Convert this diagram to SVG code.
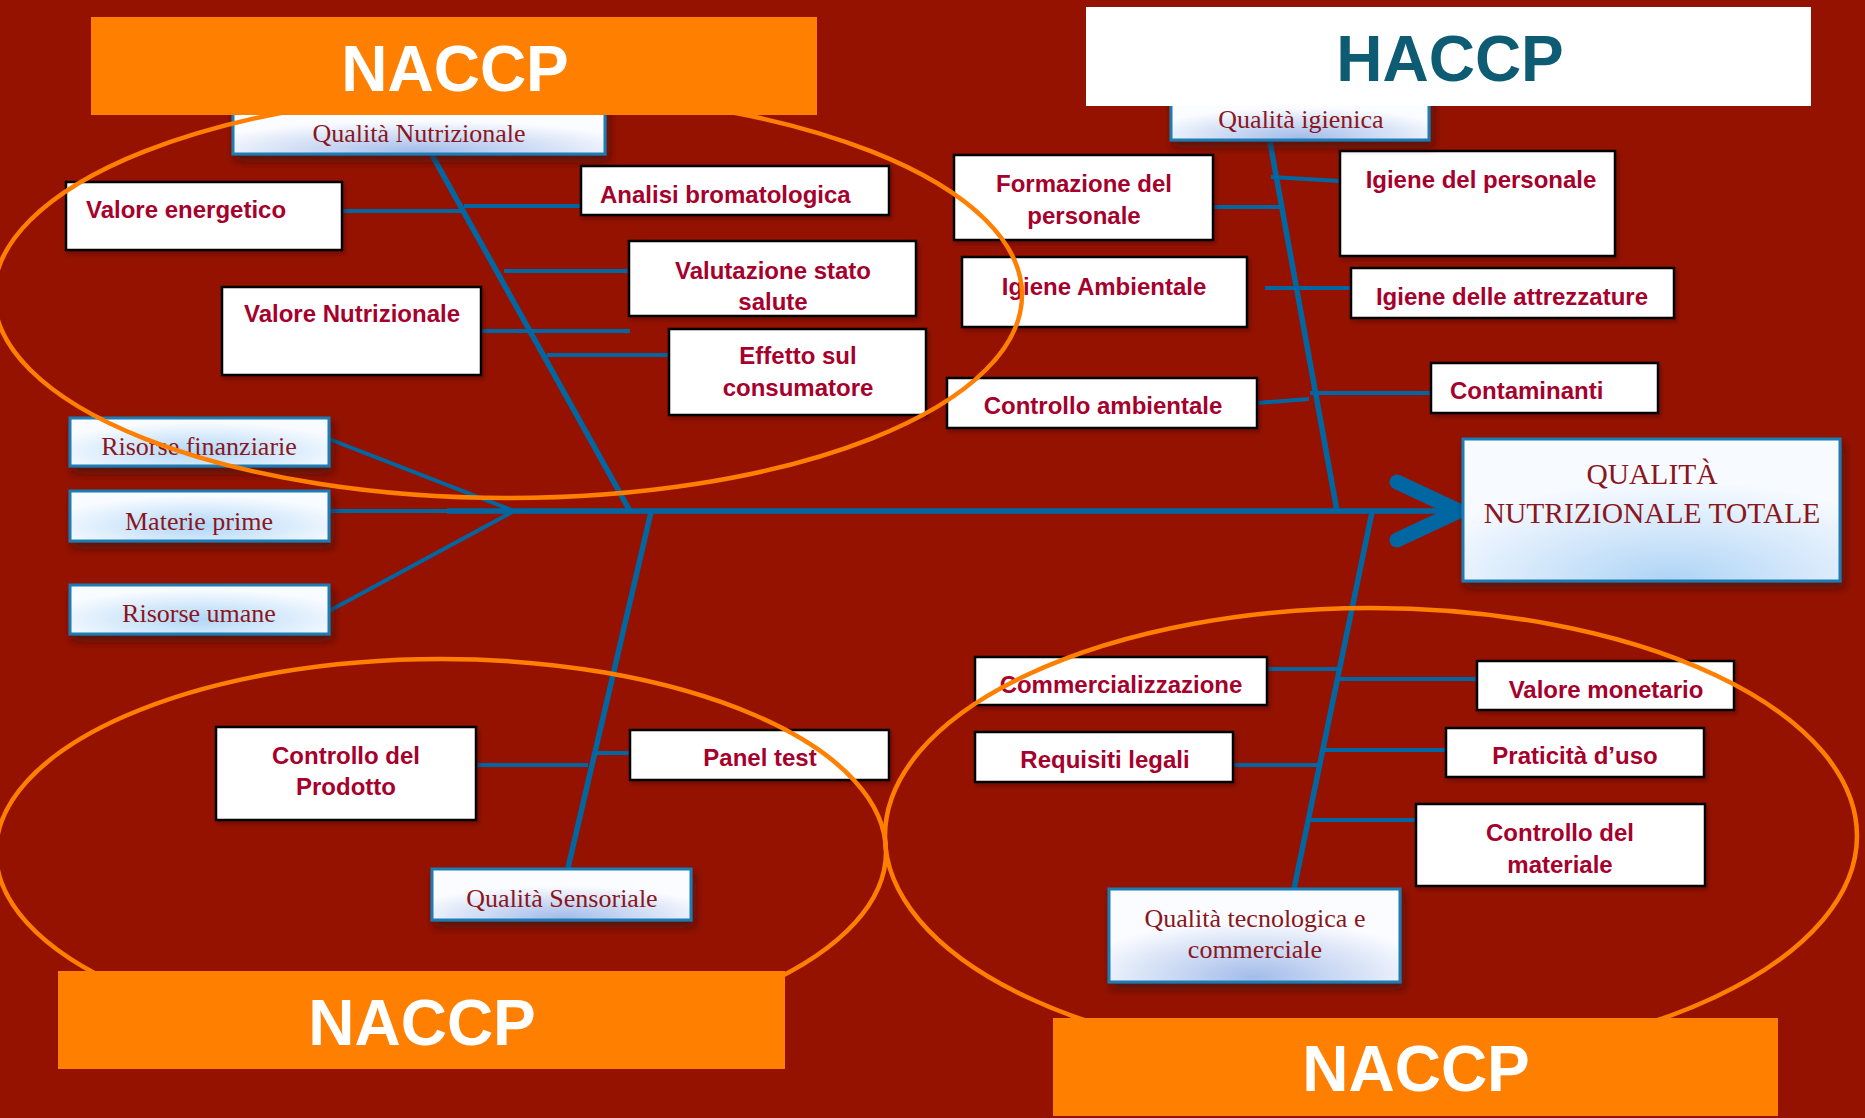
<svg xmlns="http://www.w3.org/2000/svg" width="1865" height="1118" viewBox="0 0 1865 1118">
<defs>
<style>
.bg{fill:#951200}
.ln{stroke:#0067A3;stroke-width:4;fill:none;stroke-linecap:butt}
.bone{stroke:#0067A3;stroke-width:5.5;fill:none}
.wb{fill:#ffffff;stroke:#000000;stroke-width:2.5}
.bb{stroke:#1A7DB5;stroke-width:3}
.bt{font-family:"Liberation Sans",Arial,sans-serif;font-weight:bold;font-size:24px;fill:#A6002C}
.st{font-family:"Liberation Serif","Times New Roman",serif;font-size:26px;fill:#8A1620}
.big{font-size:29.5px}
.ell{fill:none;stroke:#FF7F00;stroke-width:4.5}
.hdr{fill:#FF7F00}
.ht{font-family:"Liberation Sans",Arial,sans-serif;font-weight:bold;font-size:64px;fill:#ffffff;text-anchor:middle}
.c{text-anchor:middle}
</style>
<radialGradient id="gPeri" cx="0.5" cy="0.95" r="0.62">
<stop offset="0" stop-color="#A3BCEA"/>
<stop offset="1" stop-color="#FBFCFF"/>
</radialGradient>
<radialGradient id="gSky" cx="0.5" cy="0.7" r="0.6">
<stop offset="0" stop-color="#B0D7F7"/>
<stop offset="1" stop-color="#F8FBFF"/>
</radialGradient>
<radialGradient id="gTot" cx="0.55" cy="1" r="0.7">
<stop offset="0" stop-color="#AED4F6"/>
<stop offset="1" stop-color="#F7FAFF"/>
</radialGradient>
<filter id="sh" x="-10%" y="-20%" width="125%" height="150%">
<feDropShadow dx="3" dy="6" stdDeviation="4" flood-color="#2a0a0a" flood-opacity="0.6"/>
</filter>
<filter id="shw" x="-10%" y="-20%" width="125%" height="150%">
<feDropShadow dx="2" dy="3" stdDeviation="2" flood-color="#400000" flood-opacity="0.4"/>
</filter>
</defs>
<rect class="bg" x="0" y="0" width="1865" height="1118"/>

<g id="connectors">
<line class="ln" x1="329" y1="511" x2="514" y2="511"/>
<line class="bone" x1="447" y1="511" x2="1455" y2="511" stroke-width="6.5"/>
<line class="ln" x1="329" y1="439" x2="514" y2="511"/>
<line class="ln" x1="329" y1="611" x2="514" y2="511"/>
<polyline points="1397,482 1459,511 1397,540" fill="none" stroke="#0067A3" stroke-width="15" stroke-linecap="round" stroke-linejoin="miter"/>
<line class="bone" x1="432" y1="155" x2="630" y2="511"/>
<line class="ln" x1="342" y1="211" x2="464" y2="211"/>
<line class="ln" x1="464" y1="206" x2="581" y2="206"/>
<line class="ln" x1="504" y1="271" x2="629" y2="271"/>
<line class="ln" x1="480" y1="331" x2="630" y2="331"/>
<line class="ln" x1="547" y1="355" x2="669" y2="355"/>
<line class="bone" x1="651" y1="512" x2="568" y2="868"/>
<line class="ln" x1="477" y1="765" x2="588" y2="765"/>
<line class="ln" x1="597" y1="753" x2="630" y2="753"/>
<line class="bone" x1="1270" y1="142" x2="1337" y2="511"/>
<line class="ln" x1="1271" y1="177" x2="1340" y2="181"/>
<line class="ln" x1="1213" y1="207" x2="1283" y2="207"/>
<line class="ln" x1="1265" y1="288" x2="1351" y2="288"/>
<line class="ln" x1="1257" y1="403" x2="1309" y2="399"/>
<line class="ln" x1="1310" y1="393" x2="1435" y2="393"/>
<line class="bone" x1="1372" y1="512" x2="1294" y2="889"/>
<line class="ln" x1="1267" y1="669" x2="1338" y2="669"/>
<line class="ln" x1="1338" y1="679" x2="1477" y2="679"/>
<line class="ln" x1="1233" y1="765" x2="1320" y2="765"/>
<line class="ln" x1="1324" y1="750" x2="1446" y2="750"/>
<line class="ln" x1="1309" y1="820" x2="1416" y2="820"/>
</g>

<g id="n-valore-energetico"><rect class="wb" x="66" y="182" width="276" height="68" filter="url(#shw)"/><text class="bt" x="86" y="218">Valore energetico</text></g>
<g id="n-analisi"><rect class="wb" x="581" y="166" width="308" height="49" filter="url(#shw)"/><text class="bt" x="600" y="203">Analisi bromatologica</text></g>
<g id="n-valutazione"><rect class="wb" x="629" y="241" width="287" height="75" filter="url(#shw)"/><text class="bt c" x="773" y="279">Valutazione stato</text><text class="bt c" x="773" y="310">salute</text></g>
<g id="n-valore-nutrizionale"><rect class="wb" x="222" y="287" width="259" height="88" filter="url(#shw)"/><text class="bt c" x="352" y="322">Valore Nutrizionale</text></g>
<g id="n-effetto"><rect class="wb" x="669" y="329" width="257" height="86" filter="url(#shw)"/><text class="bt c" x="798" y="364">Effetto sul</text><text class="bt c" x="798" y="396">consumatore</text></g>
<g id="n-formazione"><rect class="wb" x="954" y="155" width="259" height="85" filter="url(#shw)"/><text class="bt c" x="1084" y="192">Formazione del</text><text class="bt c" x="1084" y="224">personale</text></g>
<g id="n-igiene-personale"><rect class="wb" x="1340" y="151" width="275" height="105" filter="url(#shw)"/><text class="bt c" x="1481" y="188">Igiene del personale</text></g>
<g id="n-igiene-ambientale"><rect class="wb" x="962" y="257" width="285" height="70" filter="url(#shw)"/><text class="bt c" x="1104" y="295">Igiene Ambientale</text></g>
<g id="n-igiene-attrezzature"><rect class="wb" x="1351" y="268" width="323" height="50" filter="url(#shw)"/><text class="bt c" x="1512" y="305">Igiene delle attrezzature</text></g>
<g id="n-controllo-ambientale"><rect class="wb" x="947" y="378" width="310" height="50" filter="url(#shw)"/><text class="bt c" x="1103" y="414">Controllo ambientale</text></g>
<g id="n-contaminanti"><rect class="wb" x="1431" y="363" width="227" height="50" filter="url(#shw)"/><text class="bt" x="1450" y="399">Contaminanti</text></g>
<g id="n-controllo-prodotto"><rect class="wb" x="216" y="727" width="260" height="93" filter="url(#shw)"/><text class="bt c" x="346" y="764">Controllo del</text><text class="bt c" x="346" y="795">Prodotto</text></g>
<g id="n-panel-test"><rect class="wb" x="630" y="730" width="259" height="50" filter="url(#shw)"/><text class="bt c" x="760" y="766">Panel test</text></g>
<g id="n-commercializzazione"><rect class="wb" x="975" y="657" width="292" height="48" filter="url(#shw)"/><text class="bt c" x="1121" y="693">Commercializzazione</text></g>
<g id="n-valore-monetario"><rect class="wb" x="1477" y="661" width="257" height="49" filter="url(#shw)"/><text class="bt c" x="1606" y="698">Valore monetario</text></g>
<g id="n-requisiti"><rect class="wb" x="975" y="732" width="258" height="50" filter="url(#shw)"/><text class="bt c" x="1105" y="768">Requisiti legali</text></g>
<g id="n-praticita"><rect class="wb" x="1446" y="728" width="258" height="49" filter="url(#shw)"/><text class="bt c" x="1575" y="764">Praticità d’uso</text></g>
<g id="n-controllo-materiale"><rect class="wb" x="1416" y="804" width="289" height="82" filter="url(#shw)"/><text class="bt c" x="1560" y="841">Controllo del</text><text class="bt c" x="1560" y="873">materiale</text></g>

<g id="n-qualita-nutrizionale"><rect class="bb" x="233" y="104" width="372" height="50" fill="url(#gPeri)" filter="url(#sh)"/><text class="st c" x="419" y="142">Qualità Nutrizionale</text></g>
<g id="n-risorse-finanziarie"><rect class="bb" x="70" y="418" width="259" height="48" fill="url(#gSky)" filter="url(#sh)"/><text class="st c" x="199" y="455">Risorse finanziarie</text></g>
<g id="n-materie-prime"><rect class="bb" x="70" y="491" width="259" height="50" fill="url(#gSky)" filter="url(#sh)"/><text class="st c" x="199" y="530">Materie prime</text></g>
<g id="n-risorse-umane"><rect class="bb" x="70" y="585" width="259" height="49" fill="url(#gSky)" filter="url(#sh)"/><text class="st c" x="199" y="622">Risorse umane</text></g>
<g id="n-qualita-sensoriale"><rect class="bb" x="432" y="869" width="259" height="51" fill="url(#gPeri)" filter="url(#sh)"/><text class="st c" x="562" y="907">Qualità Sensoriale</text></g>
<g id="n-qualita-igienica"><rect class="bb" x="1171" y="92" width="258" height="48" fill="url(#gPeri)" filter="url(#sh)"/><text class="st c" x="1301" y="128">Qualità igienica</text></g>
<g id="n-qualita-tecnologica"><rect class="bb" x="1109" y="889" width="291" height="93" fill="url(#gPeri)" filter="url(#sh)"/><text class="st c" x="1255" y="927">Qualità tecnologica e</text><text class="st c" x="1255" y="958">commerciale</text></g>
<g id="n-qualita-totale"><rect class="bb" x="1463" y="439" width="377" height="142" fill="url(#gTot)" filter="url(#sh)"/><text class="st big c" x="1652" y="484">QUALITÀ</text><text class="st big c" x="1652" y="523">NUTRIZIONALE TOTALE</text></g>

<g id="ellipses">
<ellipse class="ell" cx="508" cy="295" rx="514" ry="203"/>
<ellipse class="ell" cx="441" cy="852" rx="445" ry="193"/>
<ellipse class="ell" cx="1371" cy="836" rx="486" ry="228"/>
</g>

<g id="h-naccp-top"><rect class="hdr" x="91" y="17" width="726" height="98"/><text class="ht" x="455" y="91">NACCP</text></g>
<g id="h-haccp"><rect fill="#ffffff" x="1086" y="7" width="725" height="99"/><text class="ht" x="1450" y="81" style="fill:#0E5C74">HACCP</text></g>
<g id="h-naccp-left"><rect class="hdr" x="58" y="971" width="727" height="98"/><text class="ht" x="422" y="1045">NACCP</text></g>
<g id="h-naccp-right"><rect class="hdr" x="1053" y="1018" width="725" height="98"/><text class="ht" x="1416" y="1091">NACCP</text></g>
</svg>
